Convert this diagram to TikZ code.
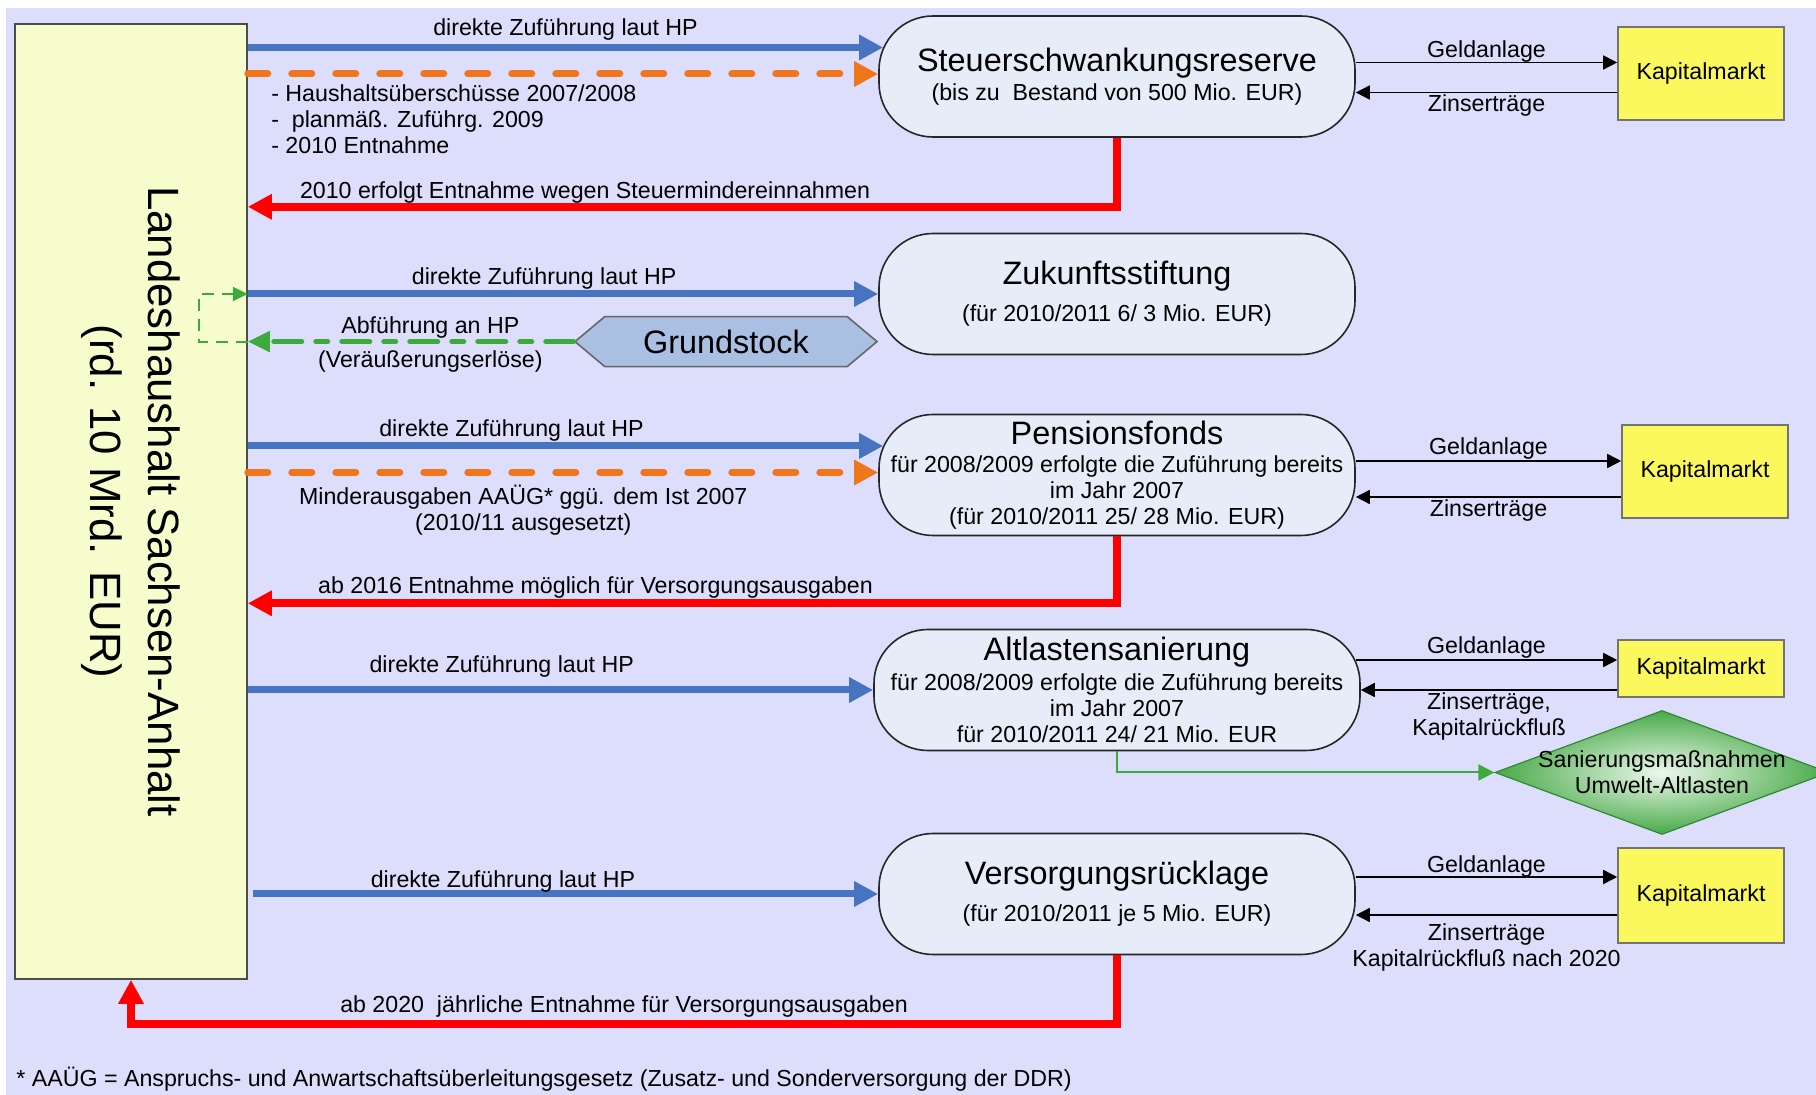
\documentclass[tikz,border=0pt]{standalone}
\usepackage{fontspec}
\setmainfont{Liberation Sans}
\usetikzlibrary{arrows.meta,calc,positioning,shapes.geometric,shapes.symbols}
\definecolor{bgviolet}  {RGB}{221,221,252}
\definecolor{lhyellow}  {RGB}{246,252,204}
\definecolor{fundfill}  {RGB}{231,237,248}
\definecolor{flowblue}  {RGB}{70,116,193}
\definecolor{floworange}{RGB}{240,118,28}
\definecolor{flowred}   {RGB}{255,0,0}
\definecolor{flowgreen} {RGB}{62,170,62}
\definecolor{kmyellow}  {RGB}{250,248,92}
\definecolor{gsblue}    {RGB}{170,192,226}
\definecolor{dmgreen}   {RGB}{72,170,72}
\definecolor{dmlight}   {RGB}{236,248,236}
\newcommand{\lblfont}{\fontsize{11.6}{13}\selectfont}
\newcommand{\boxtitle}{\fontsize{16.2}{19}\selectfont}
\newcommand{\lhfont}{\fontsize{21.9}{29}\selectfont}

\begin{document}
\begin{tikzpicture}[
  x=0.5pt,y=0.5pt,
  lbl/.style={font=\lblfont,inner sep=1pt},
  fund/.style={draw=black!85,fill=fundfill,line width=0.8pt,rounded corners=27pt,
               minimum width=238pt,minimum height=60.5pt,inner sep=0pt,
               align=center,font=\lblfont},
  kmbox/.style={draw=black!55,fill=kmyellow,line width=0.8pt,minimum width=83pt,
                inner sep=0pt,font=\lblfont},
  bluearr/.style={draw=flowblue,line width=3.5pt,-{Triangle[length=12pt,width=12pt]}},
  orarr/.style={draw=floworange,line width=3.5pt,line cap=round,
                dash pattern=on 10pt off 12pt,-{Triangle[length=12pt,width=12pt]}},
  redarr/.style={draw=flowred,line width=4pt,-{Triangle[length=12pt,width=12pt]}},
  grnarr/.style={draw=flowgreen,line width=2.5pt,line cap=round,
                 dash pattern=on 14pt off 7pt on 6pt off 7pt,
                 -{Triangle[length=11pt,width=10pt]}},
  looparr/.style={draw=flowgreen,line width=1pt,dash pattern=on 6pt off 4pt,
                  -{Triangle[length=7.5pt,width=7pt]}},
  grnline/.style={draw=flowgreen,line width=1pt,-{Triangle[length=8pt,width=8pt]}},
  blkarr/.style={draw=black,line width=0.8pt,-{Triangle[length=7pt,width=7pt]}},
]

\useasboundingbox (0,0) rectangle (1816,-1095);
\fill[bgviolet] (6,-8) rectangle (1816,-1095);

%% ── Landeshaushalt ──────────────────────────────────────────────────────────
\node[draw=black!70,fill=lhyellow,line width=0.8pt,minimum width=116pt,
      minimum height=477.5pt,inner sep=0pt] (LH) at (131,-501.5) {};
\node[rotate=-90,font=\lhfont,align=center] (LHtext) at (LH.center)
  {Landeshaushalt Sachsen-Anhalt\\(rd. 10 Mrd. EUR)};

%% ── Sondervermoegen ─────────────────────────────────────────────────────────
\node[fund] (SR) at (1117,-76.5)
  {{\boxtitle Steuerschwankungsreserve}\\[1.5pt]
   (bis zu\ \ Bestand von 500 Mio. EUR)};
\node[fund] (ZS) at (1117,-294)
  {{\boxtitle Zukunftsstiftung}\\[5.5pt]
   (für 2010/2011 6/ 3 Mio. EUR)};
\node[fund] (PF) at (1117,-475)
  {{\boxtitle Pensionsfonds}\\[1pt]
   für 2008/2009 erfolgte die Zuführung bereits\\
   im Jahr 2007\\
   (für 2010/2011 25/ 28 Mio. EUR)};
\node[fund,minimum width=243pt] (AS) at (1117,-690)
  {{\boxtitle Altlastensanierung}\\[2pt]
   für 2008/2009 erfolgte die Zuführung bereits\\
   im Jahr 2007\\
   für 2010/2011 24/ 21 Mio. EUR};
\node[fund] (VR) at (1117,-894)
  {{\boxtitle Versorgungsrücklage}\\[5.5pt]
   (für 2010/2011 je 5 Mio. EUR)};

\node[signal,signal to=west and east,signal pointer angle=80,draw=black!60,
      fill=gsblue,line width=0.8pt,minimum width=151pt,minimum height=25pt,
      inner sep=0pt,font=\boxtitle] (GS) at (726,-341.6) {Grundstock};

%% ── Kapitalmarkt ───────────────────────────────────────────────────────────
\node[kmbox,minimum height=46.5pt] (K1) at (1701,-73.5)  {Kapitalmarkt};
\node[kmbox,minimum height=46.5pt] (K2) at (1705,-471.5) {Kapitalmarkt};
\node[kmbox,minimum height=28.5pt] (K3) at (1701,-668.5) {Kapitalmarkt};
\node[kmbox,minimum height=47.5pt] (K4) at (1701,-895.5) {Kapitalmarkt};

\node[diamond,draw=flowgreen!80!black,line width=0.6pt,inner color=dmlight,
      outer color=dmgreen,minimum width=167pt,minimum height=62pt,inner sep=0pt]
  (DM) at (1662,-772.5) {};
\node[lbl,align=center] (DMtext) at (DM.center)
  {Sanierungsmaßnahmen\\Umwelt-Altlasten};

%% ── Steuerschwankungsreserve ───────────────────────────────────────────────
\draw[bluearr] ([yshift=14.5pt]SR.west -| LH.east) --
  node[lbl,above=1pt]{direkte Zuführung laut HP}
  ([yshift=14.5pt,xshift=2.5pt]SR.west);
\draw[orarr] ([yshift=1.25pt]SR.west -| LH.east) --
  node[at start,lbl,anchor=north west,align=left,xshift=9pt,yshift=-2.5pt]
    {- Haushaltsüberschüsse 2007/2008\\-\ \ planmäß. Zuführg. 2009\\- 2010 Entnahme}
  ([yshift=1.25pt]SR.west);
\draw[redarr] (SR.south) |-
  node[pos=0.806,lbl,above=-1.5pt]{2010 erfolgt Entnahme wegen Steuermindereinnahmen}
  ([yshift=-34.5pt]SR.south -| LH.east);

%% ── Zukunftsstiftung / Grundstock ──────────────────────────────────────────
\draw[bluearr] (ZS.west -| LH.east) --
  node[pos=0.47,lbl,above=-0.4pt]{direkte Zuführung laut HP} (ZS.west);
\draw[grnarr] (GS.west) --
  node[pos=0.44,lbl,above=-0.4pt]{Abführung an HP}
  node[pos=0.44,lbl,below=2.5pt]{(Veräußerungserlöse)}
  (GS.west -| LH.east);
\draw[looparr] (GS.west -| LH.east) -- ++(-24.5pt,0pt) |- (ZS.west -| LH.east);

%% ── Pensionsfonds ──────────────────────────────────────────────────────────
\draw[bluearr] ([yshift=14.5pt]PF.west -| LH.east) --
  node[pos=0.415,lbl,above=-0.5pt]{direkte Zuführung laut HP}
  ([yshift=14.5pt,xshift=2.5pt]PF.west);
\draw[orarr] ([yshift=1.25pt]PF.west -| LH.east) --
  node[pos=0.437,lbl,below=3.7pt,align=center]
    {Minderausgaben AAÜG* ggü. dem Ist 2007\\(2010/11 ausgesetzt)}
  ([yshift=1.25pt]PF.west);
\draw[redarr] (PF.south) |-
  node[pos=0.8,lbl,above=-0.3pt]{ab 2016 Entnahme möglich für Versorgungsausgaben}
  ([yshift=-33.5pt]PF.south -| LH.east);

%% ── Altlastensanierung ─────────────────────────────────────────────────────
\draw[bluearr] (AS.west -| LH.east) --
  node[pos=0.406,lbl,above=3.5pt]{direkte Zuführung laut HP} (AS.west);
\draw[grnline] (AS.south) |- (DM.west);

%% ── Versorgungsruecklage ───────────────────────────────────────────────────
\draw[bluearr] ([xshift=2.5pt]LH.east |- VR.west) --
  node[pos=0.4,lbl,above=-2pt]{direkte Zuführung laut HP} (VR.west);
\draw[redarr] (VR.south) -- ++(0pt,-34.3pt) -|
  node[pos=0.25,lbl,above=0.2pt]{ab 2020\ \ jährliche Entnahme für Versorgungsausgaben}
  (LH.south);

%% ── Kapitalmarkt in/out ────────────────────────────────────────────────────
\draw[blkarr] ([yshift=7pt]SR.east) --
  node[lbl,above=-1.25pt]{Geldanlage} ([yshift=7pt]SR.east -| K1.west);
\draw[blkarr] ([yshift=-8pt]SR.east -| K1.west) --
  node[lbl,below=-0.3pt]{Zinserträge} ([yshift=-8pt]SR.east);

\draw[blkarr] ([yshift=7pt]PF.east) --
  node[lbl,above=-0.7pt]{Geldanlage} ([yshift=7pt]PF.east -| K2.west);
\draw[blkarr] ([yshift=-11pt]PF.east -| K2.west) --
  node[lbl,below=0pt]{Zinserträge} ([yshift=-11pt]PF.east);

\draw[blkarr] ([yshift=15pt,xshift=-2.5pt]AS.east) --
  node[lbl,above=-0.75pt]{Geldanlage} ([yshift=15pt]AS.east -| K3.west);
\draw[blkarr] (AS.east -| K3.west) --
  node[lbl,below=0pt,align=center]{Zinserträge,\\Kapitalrückfluß} (AS.east);

\draw[blkarr] ([yshift=8.5pt]VR.east) --
  node[lbl,above=-1.75pt]{Geldanlage} ([yshift=8.5pt]VR.east -| K4.west);
\draw[blkarr] ([yshift=-10.5pt]VR.east -| K4.west) --
  node[lbl,below=3pt,align=center]{Zinserträge\\Kapitalrückfluß nach 2020}
  ([yshift=-10.5pt]VR.east);

%% ── Fussnote ───────────────────────────────────────────────────────────────
\node[lbl,anchor=west] (note) at (14,-1079.5)
  {* AAÜG = Anspruchs- und Anwartschaftsüberleitungsgesetz (Zusatz- und Sonderversorgung der DDR)};

\end{tikzpicture}
\end{document}
